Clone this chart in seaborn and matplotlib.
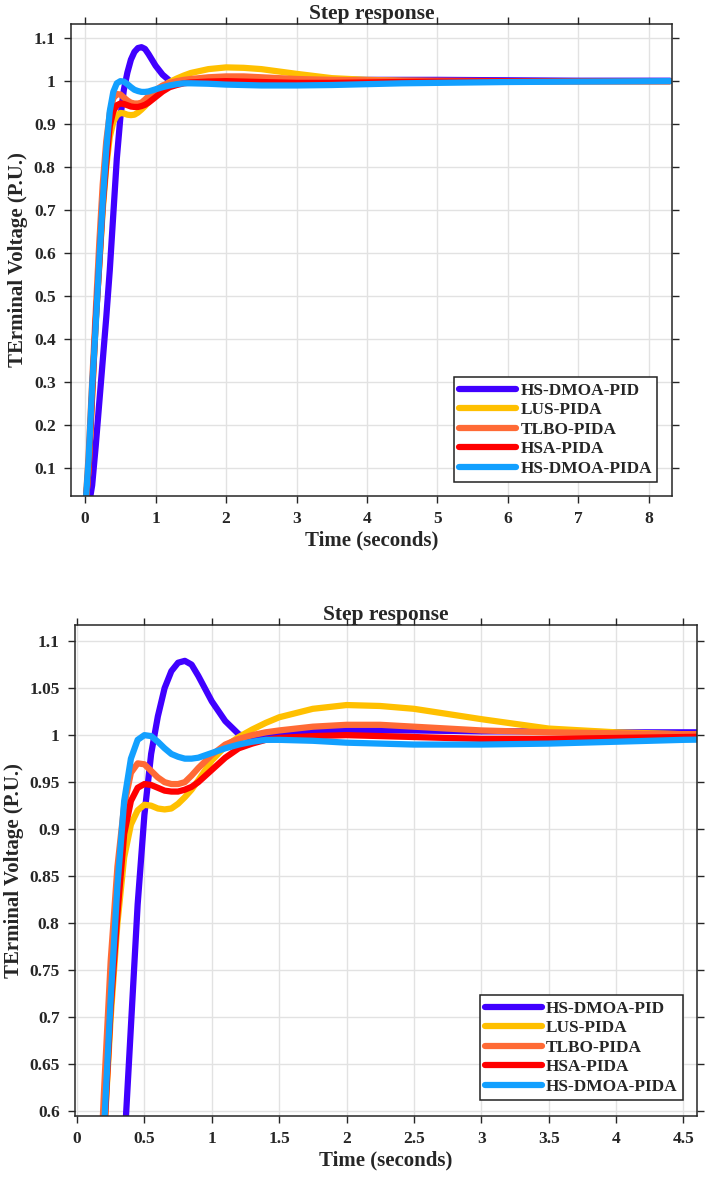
import matplotlib
matplotlib.use("Agg")
import matplotlib.pyplot as plt
import numpy as np
import pandas as pd
import seaborn as sns

# time samples (s)
time_s = [0.0, 0.05, 0.1, 0.15, 0.2, 0.25, 0.3, 0.35, 0.4, 0.45, 0.5, 0.55,
          0.6, 0.65, 0.7, 0.75, 0.8, 0.85, 0.9, 1.0, 1.1, 1.2, 1.3, 1.4,
          1.5, 1.75, 2.0, 2.25, 2.5, 3.0, 3.5, 4.0, 4.5, 5.0, 6.0, 7.0, 8.3]

hs_dmoa_pid = [0.0, 0.01, 0.06, 0.15, 0.25, 0.35, 0.45, 0.56, 0.69, 0.82, 0.915, 0.98,
               1.02, 1.05, 1.068, 1.077, 1.079, 1.075, 1.063, 1.036, 1.015, 1.001, 0.996, 0.997,
               1.0, 1.004, 1.005, 1.005, 1.005, 1.004, 1.004, 1.003, 1.003, 1.003, 1.002, 1.001, 1.001]
lus_pida = [0.0, 0.1, 0.27, 0.44, 0.57, 0.70, 0.80, 0.87, 0.905, 0.92, 0.926, 0.925,
            0.922, 0.921, 0.922, 0.927, 0.934, 0.942, 0.952, 0.973, 0.988, 0.998, 1.006, 1.013,
            1.019, 1.028, 1.032, 1.031, 1.028, 1.017, 1.007, 1.003, 1.001, 1.0, 1.0, 1.0, 1.0]
tlbo_pida = [0.0, 0.13, 0.30, 0.46, 0.62, 0.76, 0.86, 0.925, 0.96, 0.97, 0.969, 0.962,
             0.955, 0.95, 0.948, 0.948, 0.95, 0.957, 0.965, 0.979, 0.99, 0.996, 1.0, 1.003,
             1.005, 1.009, 1.011, 1.011, 1.009, 1.005, 1.003, 1.002, 1.001, 1.001, 1.0, 1.0, 1.0]
hsa_pida = [0.0, 0.1, 0.27, 0.44, 0.57, 0.71, 0.81, 0.895, 0.93, 0.944, 0.948, 0.947,
            0.944, 0.941, 0.94, 0.94, 0.942, 0.945, 0.95, 0.963, 0.976, 0.986, 0.991, 0.995,
            0.997, 0.999, 1.0, 0.999, 0.998, 0.996, 0.996, 0.997, 0.998, 0.999, 1.0, 1.0, 1.0]
hs_dmoa_pida = [0.0, 0.12, 0.29, 0.43, 0.58, 0.72, 0.84, 0.93, 0.975, 0.995, 1.0, 0.999,
                0.993, 0.986, 0.98, 0.977, 0.975, 0.975, 0.976, 0.981, 0.986, 0.99, 0.993, 0.995,
                0.995, 0.994, 0.992, 0.991, 0.99, 0.99, 0.991, 0.993, 0.995, 0.996, 0.998, 0.999, 1.0]

series_names = ["HS-DMOA-PID", "LUS-PIDA", "TLBO-PIDA", "HSA-PIDA", "HS-DMOA-PIDA"]
series_values = [hs_dmoa_pid, lus_pida, tlbo_pida, hsa_pida, hs_dmoa_pida]
series_colors = ["#4000ff", "#ffc000", "#ff6a35", "#ff0000", "#12a0ff"]

top_xticks = [0, 1, 2, 3, 4, 5, 6, 7, 8]
top_yticks = [0.1, 0.2, 0.3, 0.4, 0.5, 0.6, 0.7, 0.8, 0.9, 1.0, 1.1]
bot_xticks = [0, 0.5, 1, 1.5, 2, 2.5, 3, 3.5, 4, 4.5]
bot_yticks = [0.6, 0.65, 0.7, 0.75, 0.8, 0.85, 0.9, 0.95, 1.0, 1.05, 1.1]

rows = []
for name, vals in zip(series_names, series_values):
    for t, v in zip(time_s, vals):
        rows.append({"time": t, "voltage": v, "controller": name})
df = pd.DataFrame(rows)

sns.set_style("whitegrid")
plt.rcParams["font.family"] = ["Liberation Serif", "DejaVu Serif"]
plt.rcParams["font.weight"] = "bold"

LW = 4.5


def fmt(v):
    return f"{v:g}"


def draw_panel(ax, xlim, ylim, xticks, yticks, legend_anchor):
    sns.lineplot(data=df, x="time", y="voltage", hue="controller",
                 hue_order=series_names, palette=dict(zip(series_names, series_colors)),
                 estimator=None, sort=False, linewidth=LW, ax=ax)
    ax.set_xlim(*xlim)
    ax.set_ylim(*ylim)
    ax.set_xticks(xticks)
    ax.set_xticklabels([fmt(v) for v in xticks], fontsize=12.5, fontweight="bold")
    ax.set_yticks(yticks)
    ax.set_yticklabels([fmt(round(v, 2)) for v in yticks], fontsize=12.5, fontweight="bold")
    ax.grid(True, color="#e2e2e2", linewidth=1.0)
    for sp in ax.spines.values():
        sp.set_visible(True)
        sp.set_color("#262626")
        sp.set_linewidth(1.1)
    ax.tick_params(axis="both", which="both", direction="out", length=5, width=1,
                   color="#262626", top=True, right=True, bottom=True, left=True,
                   labeltop=False, labelright=False, pad=6)
    ax.set_title("Step response", fontsize=15.5, fontweight="bold", pad=2)
    ax.set_xlabel("Time (seconds)", fontsize=15, fontweight="bold", labelpad=2)
    ax.set_ylabel("TErminal Voltage (P.U.)", fontsize=15, fontweight="bold", labelpad=4)
    handles, labels = ax.get_legend_handles_labels()
    leg = ax.legend(handles, labels, loc="lower right", bbox_to_anchor=legend_anchor,
                    frameon=True, fancybox=False, framealpha=1, edgecolor="#222222",
                    handlelength=3.3, labelspacing=0.2, borderpad=0.3, borderaxespad=0,
                    handletextpad=0.25, prop={"family": "Liberation Serif", "weight": "bold", "size": 12.4})
    leg.get_frame().set_linewidth(1.1)
    for line in leg.get_lines():
        line.set_linewidth(LW)


fig = plt.figure(figsize=(7.08, 11.81), dpi=100)
ax_top = fig.add_axes([0.1003, 0.58, 0.849, 0.3997])
ax_bot = fig.add_axes([0.1059, 0.055, 0.8785, 0.4157])

draw_panel(ax_top, (-0.2, 8.33), (0.035, 1.133), top_xticks, top_yticks, (0.975, 0.03))
draw_panel(ax_bot, (-0.015, 4.6), (0.595, 1.117), bot_xticks, bot_yticks, (0.977, 0.033))

fig.savefig("out.png", dpi=100)
plt.close(fig)
